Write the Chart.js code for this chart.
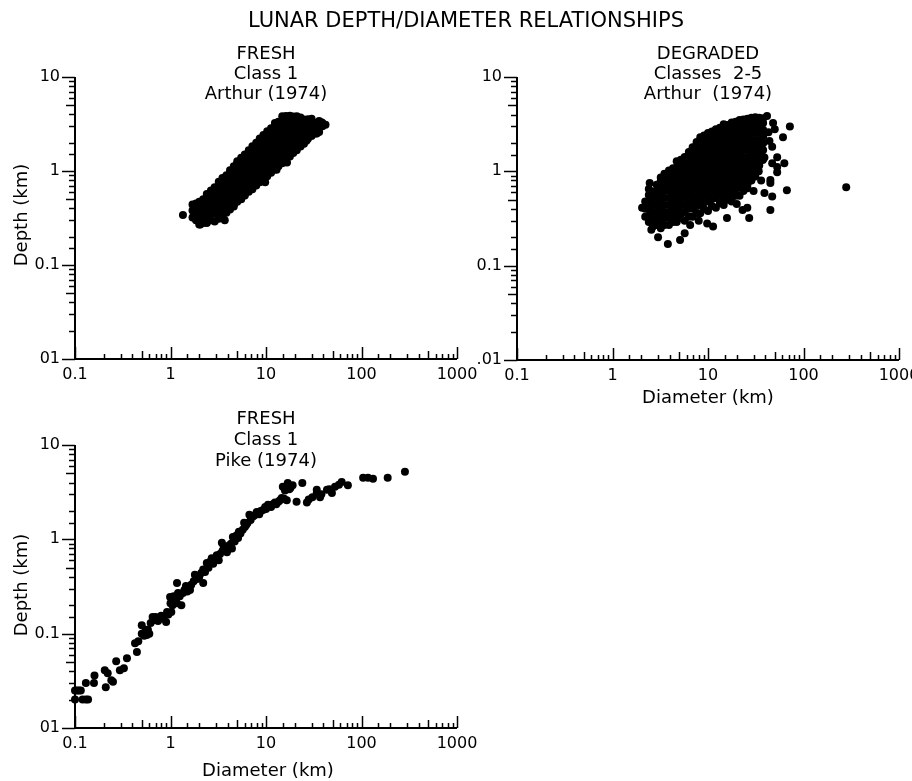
<!DOCTYPE html>
<html>
<head>
<meta charset="utf-8">
<script src="https://cdn.jsdelivr.net/npm/chart.js@4.4.1/dist/chart.umd.min.js"></script>
<style>
  html, body { margin: 0; padding: 0; background: #fff; overflow: hidden; }
  #page { position: relative; width: 912px; height: 781px; overflow: hidden; font-family: "DejaVu Sans", sans-serif; color: #000; }
  canvas { position: absolute; }
  .lbl { position: absolute; transform: translate(-50%, -50%); white-space: pre; line-height: 1; }
  .sub { font-size: 18px; }
  .axt { font-size: 18px; }
</style>
</head>
<body>
<div id="page">
  <canvas id="fresh" width="500" height="400" style="left:0;top:0"></canvas>
  <canvas id="degraded" width="500" height="400" style="left:440px;top:0"></canvas>
  <canvas id="pike" width="500" height="380" style="left:0;top:380px"></canvas>

  <div class="lbl" style="left:466px;top:20px;font-size:21px">LUNAR DEPTH/DIAMETER RELATIONSHIPS</div>

  <div class="lbl sub" style="left:266px;top:53px">FRESH</div>
  <div class="lbl sub" style="left:266px;top:73px">Class 1</div>
  <div class="lbl sub" style="left:266px;top:93px">Arthur (1974)</div>

  <div class="lbl sub" style="left:708px;top:53px">DEGRADED</div>
  <div class="lbl sub" style="left:708px;top:73px">Classes  2-5</div>
  <div class="lbl sub" style="left:708px;top:93px">Arthur  (1974)</div>

  <div class="lbl sub" style="left:266px;top:418px">FRESH</div>
  <div class="lbl sub" style="left:266px;top:439px">Class 1</div>
  <div class="lbl sub" style="left:266px;top:460px">Pike (1974)</div>

  <div class="lbl axt" style="left:21px;top:215px;transform:translate(-50%,-50%) rotate(-90deg)">Depth (km)</div>
  <div class="lbl axt" style="left:21px;top:585px;transform:translate(-50%,-50%) rotate(-90deg)">Depth (km)</div>
  <div class="lbl axt" style="left:708px;top:397px">Diameter (km)</div>
  <div class="lbl axt" style="left:268px;top:770px">Diameter (km)</div>
</div>

<script>
// tick labels
const xTickValues = [0.1, 1, 10, 100, 1000];
const xTickLabels = ['0.1', '1', '10', '100', '1000'];
const yTickValues = [0.01, 0.1, 1, 10];
const yTickLabelsFresh = ['01', '0.1', '1', '10'];
const yTickLabelsDegraded = ['.01', '0.1', '1', '10'];

// [diameter km, depth km] - Arthur (1974), fresh class 1
const freshArthur = [
  [1.35, 0.34],
  [1.7, 0.32], [1.7, 0.38], [1.7, 0.44],
  [2.0, 0.27], [2.0, 0.30], [2.0, 0.35], [2.0, 0.41], [2.0, 0.47],
  [2.4, 0.28], [2.4, 0.32], [2.4, 0.38], [2.4, 0.44], [2.4, 0.52], [2.4, 0.57],
  [2.9, 0.29], [2.9, 0.35], [2.9, 0.41], [2.9, 0.48], [2.9, 0.57], [2.9, 0.67],
  [3.5, 0.32], [3.5, 0.38], [3.5, 0.44], [3.5, 0.52], [3.5, 0.62], [3.5, 0.73], [3.5, 0.84],
  [4.2, 0.39], [4.2, 0.41], [4.2, 0.48], [4.2, 0.57], [4.2, 0.67], [4.2, 0.79], [4.2, 0.93], [4.2, 1.02],
  [5.0, 0.47], [5.0, 0.52], [5.0, 0.62], [5.0, 0.73], [5.0, 0.86], [5.0, 1.01], [5.0, 1.2], [5.0, 1.27],
  [6.0, 0.55], [6.0, 0.57], [6.0, 0.67], [6.0, 0.79], [6.0, 0.93], [6.0, 1.1], [6.0, 1.3], [6.0, 1.5],
  [7.2, 0.64], [7.2, 0.73], [7.2, 0.86], [7.2, 1.01], [7.2, 1.2], [7.2, 1.41], [7.2, 1.67], [7.2, 1.83],
  [8.6, 0.76], [8.6, 0.79], [8.6, 0.93], [8.6, 1.1], [8.6, 1.3], [8.6, 1.54], [8.6, 1.81], [8.6, 2.14], [8.6, 2.22],
  [10.3, 0.88], [10.3, 1.01], [10.3, 1.2], [10.3, 1.41], [10.3, 1.67], [10.3, 1.97], [10.3, 2.32], [10.3, 2.65],
  [12.4, 1.04], [12.4, 1.1], [12.4, 1.3], [12.4, 1.54], [12.4, 1.81], [12.4, 2.14], [12.4, 2.52], [12.4, 2.98], [12.4, 3.25],
  [14.8, 1.21], [14.8, 1.41], [14.8, 1.67], [14.8, 1.97], [14.8, 2.32], [14.8, 2.74], [14.8, 3.24], [14.8, 3.82],
  [17.8, 1.43], [17.8, 1.54], [17.8, 1.81], [17.8, 2.14], [17.8, 2.52], [17.8, 2.98], [17.8, 3.52], [17.8, 3.88],
  [21, 1.66], [21, 1.97], [21, 2.32], [21, 2.74], [21, 3.24], [21, 3.82],
  [25, 1.95], [25, 2.14], [25, 2.52], [25, 2.98], [25, 3.52],
  [30, 2.35], [30, 2.74], [30, 3.24], [30, 3.6],
  [36, 2.6], [36, 2.98], [36, 3.4],
  [42, 3.1],
  [16.6, 1.23], [9.8, 0.76], [12.9, 1.03], [3.7, 0.3], [2.05, 0.27], [26.5, 2.1], [34, 2.5], [38, 3.3],
  [4.6, 0.42], [5.5, 0.5],
  [1.85, 0.30], [1.85, 0.35], [1.85, 0.41], [1.85, 0.45],
  [2.2, 0.28], [2.2, 0.33], [2.2, 0.38], [2.2, 0.44], [2.2, 0.50],
  [2.65, 0.30], [2.65, 0.35], [2.65, 0.41], [2.65, 0.48], [2.65, 0.56], [2.65, 0.62],
  [3.2, 0.31], [3.2, 0.36], [3.2, 0.42], [3.2, 0.49], [3.2, 0.57], [3.2, 0.67], [3.2, 0.77],
  [3.85, 0.36], [3.85, 0.42], [3.85, 0.49], [3.85, 0.57], [3.85, 0.67], [3.85, 0.78], [3.85, 0.9],
  [4.6, 0.44], [4.6, 0.51], [4.6, 0.6], [4.6, 0.7], [4.6, 0.82], [4.6, 0.96], [4.6, 1.12],
  [5.5, 0.51], [5.5, 0.6], [5.5, 0.7], [5.5, 0.82], [5.5, 0.96], [5.5, 1.12], [5.5, 1.3], [5.5, 1.38],
  [6.6, 0.6], [6.6, 0.7], [6.6, 0.82], [6.6, 0.96], [6.6, 1.12], [6.6, 1.3], [6.6, 1.52], [6.6, 1.66],
  [7.9, 0.7], [7.9, 0.82], [7.9, 0.96], [7.9, 1.12], [7.9, 1.3], [7.9, 1.52], [7.9, 1.78], [7.9, 2.0],
  [9.4, 0.82], [9.4, 0.96], [9.4, 1.12], [9.4, 1.3], [9.4, 1.52], [9.4, 1.78], [9.4, 2.08], [9.4, 2.42],
  [11.3, 0.96], [11.3, 1.12], [11.3, 1.3], [11.3, 1.52], [11.3, 1.78], [11.3, 2.08], [11.3, 2.44], [11.3, 2.85],
  [13.5, 1.12], [13.5, 1.3], [13.5, 1.52], [13.5, 1.78], [13.5, 2.08], [13.5, 2.44], [13.5, 2.85], [13.5, 3.35],
  [16.2, 1.32], [16.2, 1.52], [16.2, 1.78], [16.2, 2.08], [16.2, 2.44], [16.2, 2.85], [16.2, 3.35], [16.2, 3.85],
  [19.3, 1.55], [19.3, 1.78], [19.3, 2.08], [19.3, 2.44], [19.3, 2.85], [19.3, 3.35], [19.3, 3.8],
  [23, 1.82], [23, 2.08], [23, 2.44], [23, 2.85], [23, 3.35], [23, 3.7],
  [27.5, 2.2], [27.5, 2.5], [27.5, 2.85], [27.5, 3.35], [27.5, 3.55],
  [33, 2.5], [33, 2.85], [33, 3.25],
  [39, 3.0], [39, 3.25]
];

// Arthur (1974), degraded classes 2-5
const degradedArthur = [
  [2.04, 0.41], [2.45, 0.75],
  [2.2, 0.33], [2.2, 0.40], [2.2, 0.48],
  [2.65, 0.26], [2.65, 0.31], [2.65, 0.37], [2.65, 0.44], [2.65, 0.52], [2.65, 0.61],
  [3.2, 0.25], [3.2, 0.29], [3.2, 0.34], [3.2, 0.40], [3.2, 0.48], [3.2, 0.57], [3.2, 0.67], [3.2, 0.79], [3.2, 0.86],
  [3.9, 0.27], [3.9, 0.32], [3.9, 0.37], [3.9, 0.44], [3.9, 0.52], [3.9, 0.62], [3.9, 0.73], [3.9, 0.86], [3.9, 1.02],
  [4.7, 0.29], [4.7, 0.34], [4.7, 0.40], [4.7, 0.48], [4.7, 0.57], [4.7, 0.67], [4.7, 0.79], [4.7, 0.94], [4.7, 1.1], [4.7, 1.28],
  [5.7, 0.30], [5.7, 0.37], [5.7, 0.44], [5.7, 0.52], [5.7, 0.62], [5.7, 0.73], [5.7, 0.86], [5.7, 1.02], [5.7, 1.2], [5.7, 1.42],
  [6.9, 0.33], [6.9, 0.40], [6.9, 0.48], [6.9, 0.57], [6.9, 0.67], [6.9, 0.79], [6.9, 0.94], [6.9, 1.1], [6.9, 1.3], [6.9, 1.54], [6.9, 1.8],
  [8.3, 0.36], [8.3, 0.44], [8.3, 0.52], [8.3, 0.62], [8.3, 0.73], [8.3, 0.86], [8.3, 1.02], [8.3, 1.2], [8.3, 1.42], [8.3, 1.68], [8.3, 1.98], [8.3, 2.3],
  [10, 0.38], [10, 0.48], [10, 0.57], [10, 0.67], [10, 0.79], [10, 0.94], [10, 1.1], [10, 1.3], [10, 1.54], [10, 1.82], [10, 2.15], [10, 2.55],
  [12.1, 0.41], [12.1, 0.52], [12.1, 0.62], [12.1, 0.73], [12.1, 0.86], [12.1, 1.02], [12.1, 1.2], [12.1, 1.42], [12.1, 1.68], [12.1, 1.98], [12.1, 2.34], [12.1, 2.8],
  [14.6, 0.44], [14.6, 0.48], [14.6, 0.57], [14.6, 0.67], [14.6, 0.79], [14.6, 0.94], [14.6, 1.1], [14.6, 1.3], [14.6, 1.54], [14.6, 1.82], [14.6, 2.15], [14.6, 2.55], [14.6, 3.0], [14.6, 3.15],
  [17.7, 0.48], [17.7, 0.52], [17.7, 0.62], [17.7, 0.73], [17.7, 0.86], [17.7, 1.02], [17.7, 1.2], [17.7, 1.42], [17.7, 1.68], [17.7, 1.98], [17.7, 2.34], [17.7, 2.76], [17.7, 3.3],
  [21.4, 0.55], [21.4, 0.67], [21.4, 0.79], [21.4, 0.94], [21.4, 1.1], [21.4, 1.3], [21.4, 1.54], [21.4, 1.82], [21.4, 2.15], [21.4, 2.55], [21.4, 3.0], [21.4, 3.5],
  [25.9, 0.66], [25.9, 0.73], [25.9, 0.86], [25.9, 1.02], [25.9, 1.2], [25.9, 1.42], [25.9, 1.68], [25.9, 1.98], [25.9, 2.34], [25.9, 2.76], [25.9, 3.25], [25.9, 3.62],
  [31.3, 0.88], [31.3, 0.94], [31.3, 1.1], [31.3, 1.3], [31.3, 1.54], [31.3, 1.82], [31.3, 2.15], [31.3, 2.55], [31.3, 3.0], [31.3, 3.5], [31.3, 3.75],
  [37.8, 1.35], [37.8, 1.42], [37.8, 1.68], [37.8, 1.98], [37.8, 2.34], [37.8, 2.76], [37.8, 3.25], [37.8, 3.65],
  [2.4, 0.29], [2.4, 0.34], [2.4, 0.40], [2.4, 0.47], [2.4, 0.56], [2.4, 0.65],
  [2.9, 0.27], [2.9, 0.32], [2.9, 0.37], [2.9, 0.44], [2.9, 0.52], [2.9, 0.62], [2.9, 0.72],
  [3.5, 0.27], [3.5, 0.32], [3.5, 0.37], [3.5, 0.44], [3.5, 0.52], [3.5, 0.62], [3.5, 0.73], [3.5, 0.86], [3.5, 0.94],
  [4.3, 0.29], [4.3, 0.34], [4.3, 0.40], [4.3, 0.47], [4.3, 0.56], [4.3, 0.66], [4.3, 0.78], [4.3, 0.92], [4.3, 1.08],
  [5.2, 0.32], [5.2, 0.37], [5.2, 0.44], [5.2, 0.52], [5.2, 0.61], [5.2, 0.72], [5.2, 0.85], [5.2, 1.0], [5.2, 1.18], [5.2, 1.33],
  [6.3, 0.33], [6.3, 0.40], [6.3, 0.47], [6.3, 0.56], [6.3, 0.66], [6.3, 0.78], [6.3, 0.92], [6.3, 1.08], [6.3, 1.28], [6.3, 1.5], [6.3, 1.6],
  [7.6, 0.36], [7.6, 0.43], [7.6, 0.51], [7.6, 0.6], [7.6, 0.71], [7.6, 0.84], [7.6, 0.99], [7.6, 1.17], [7.6, 1.38], [7.6, 1.63], [7.6, 1.92], [7.6, 2.05],
  [9.1, 0.40], [9.1, 0.47], [9.1, 0.56], [9.1, 0.66], [9.1, 0.78], [9.1, 0.92], [9.1, 1.08], [9.1, 1.28], [9.1, 1.5], [9.1, 1.78], [9.1, 2.1], [9.1, 2.4],
  [11, 0.43], [11, 0.51], [11, 0.6], [11, 0.71], [11, 0.84], [11, 0.99], [11, 1.17], [11, 1.38], [11, 1.63], [11, 1.92], [11, 2.27], [11, 2.65],
  [13.3, 0.46], [13.3, 0.55], [13.3, 0.65], [13.3, 0.77], [13.3, 0.91], [13.3, 1.07], [13.3, 1.26], [13.3, 1.49], [13.3, 1.76], [13.3, 2.08], [13.3, 2.45], [13.3, 2.9],
  [16.1, 0.5], [16.1, 0.59], [16.1, 0.7], [16.1, 0.83], [16.1, 0.98], [16.1, 1.16], [16.1, 1.37], [16.1, 1.62], [16.1, 1.9], [16.1, 2.25], [16.1, 2.65], [16.1, 3.1],
  [19.5, 0.55], [19.5, 0.65], [19.5, 0.77], [19.5, 0.91], [19.5, 1.07], [19.5, 1.26], [19.5, 1.49], [19.5, 1.76], [19.5, 2.08], [19.5, 2.45], [19.5, 2.9], [19.5, 3.35],
  [23.5, 0.62], [23.5, 0.73], [23.5, 0.86], [23.5, 1.02], [23.5, 1.2], [23.5, 1.42], [23.5, 1.68], [23.5, 1.98], [23.5, 2.34], [23.5, 2.76], [23.5, 3.2], [23.5, 3.55],
  [28.5, 0.8], [28.5, 0.94], [28.5, 1.1], [28.5, 1.3], [28.5, 1.54], [28.5, 1.82], [28.5, 2.15], [28.5, 2.55], [28.5, 3.0], [28.5, 3.45], [28.5, 3.7],
  [34.4, 1.15], [34.4, 1.3], [34.4, 1.54], [34.4, 1.82], [34.4, 2.15], [34.4, 2.55], [34.4, 3.0], [34.4, 3.45], [34.4, 3.7],
  [41.5, 3.86], [48, 3.25], [72, 2.98], [61, 2.3], [53, 1.41], [63, 1.22], [53, 0.98], [45, 0.81],
  [67, 0.63], [47, 0.54], [39, 0.59], [45, 0.39], [25.8, 0.41], [27, 0.32], [23, 0.39], [15.8, 0.32],
  [9.8, 0.28], [11.3, 0.26], [5.7, 0.22], [5.1, 0.187], [3.8, 0.17], [3.0, 0.2], [2.55, 0.24],
  [39, 1.4], [37.5, 1.32], [47, 1.22], [53, 1.11], [45, 0.75], [34, 1.0], [36, 0.8], [30, 0.62],
  [20, 0.45], [43, 2.6], [50, 2.8], [8, 0.3], [6.5, 0.27], [47, 1.82], [44, 2.1],
  [280, 0.68]
];

// Pike (1974), fresh class 1
const freshPike = [
  [0.1, 0.025], [0.1, 0.02], [0.105, 0.025], [0.11, 0.025], [0.115, 0.025], [0.12, 0.02], [0.13, 0.02], [0.137, 0.02],
  [0.13, 0.03], [0.158, 0.03], [0.16, 0.036], [0.205, 0.041], [0.21, 0.027], [0.22, 0.038], [0.24, 0.032], [0.25, 0.031],
  [0.27, 0.051], [0.295, 0.041], [0.325, 0.043], [0.35, 0.055], [0.425, 0.079], [0.445, 0.064], [0.46, 0.083],
  [0.5, 0.123], [0.5, 0.1], [0.53, 0.095], [0.565, 0.097], [0.6, 0.1], [0.58, 0.11], [0.65, 0.15], [0.7, 0.15],
  [0.74, 0.136], [0.8, 0.155], [0.81, 0.145], [0.9, 0.133], [0.95, 0.16], [1.02, 0.17], [1.05, 0.2], [1.1, 0.22],
  [1.17, 0.21], [1.3, 0.2], [0.99, 0.245], [1.17, 0.345], [1.2, 0.27], [1.35, 0.27], [1.5, 0.28], [1.6, 0.29],
  [1.45, 0.32], [1.8, 0.42], [1.9, 0.38], [2.0, 0.4], [2.2, 0.345], [2.3, 0.45], [2.4, 0.56], [2.5, 0.5],
  [2.7, 0.63], [2.8, 0.55], [3.05, 0.68], [3.2, 0.6], [3.45, 0.92], [3.5, 0.75], [3.7, 0.8], [3.9, 0.73],
  [4.1, 0.86], [4.4, 0.8], [4.5, 1.06], [4.7, 0.95], [5.1, 1.03], [5.4, 1.15], [5.7, 1.26], [6.0, 1.35],
  [6.4, 1.49], [6.7, 1.82], [6.9, 1.6], [7.3, 1.75], [8.0, 1.95], [8.5, 1.85], [9.3, 2.05], [9.8, 2.2],
  [10.5, 2.32], [11.3, 2.2], [12.4, 2.45], [13.5, 2.5], [14.6, 2.75], [16.5, 2.6], [15, 3.6], [16.9, 3.95],
  [19, 3.75], [17.5, 3.4], [15.8, 3.3], [18, 3.5], [20.9, 2.5], [24, 3.95], [26.8, 2.45], [28, 2.65],
  [30.6, 2.8], [34, 3.1], [36.8, 2.8], [34, 3.35], [38, 3.0], [43.5, 3.35], [49, 3.1], [46, 3.4],
  [52.8, 3.6], [62, 4.05], [58, 3.8], [72, 3.75], [104, 4.5], [117, 4.5], [132, 4.4], [188, 4.5], [285, 5.2],
  [0.55, 0.11], [0.62, 0.13], [0.68, 0.14], [0.85, 0.15], [0.92, 0.17], [1.0, 0.21], [1.08, 0.25],
  [1.25, 0.25], [1.4, 0.29], [1.65, 0.33], [1.75, 0.36], [2.1, 0.44], [2.2, 0.48], [2.6, 0.58], [2.9, 0.6],
  [3.3, 0.7], [3.6, 0.85], [4.0, 0.78], [4.3, 0.9], [4.9, 1.1], [5.2, 1.2], [5.9, 1.5], [6.2, 1.42],
  [7.6, 1.8], [8.8, 2.0], [10, 2.1], [11.8, 2.35], [12.8, 2.35], [14, 2.6], [15.5, 2.7]
];

Chart.defaults.font.family = "'DejaVu Sans', sans-serif";
Chart.defaults.color = '#000';

function isDecade(v) {
  const l = Math.log10(v);
  return Math.abs(l - Math.round(l)) < 1e-6;
}

function tickLabel(v, vals, labels) {
  const i = vals.findIndex(t => Math.abs(Math.log10(v) - Math.log10(t)) < 1e-6);
  return i < 0 ? '' : labels[i];
}

function mantissa(v) {
  return Math.round(v / Math.pow(10, Math.floor(Math.log10(v) + 1e-9)));
}

// axis lines and tick marks: x ticks point up into the plot, y ticks point left
const axisMarks = {
  id: 'axisMarks',
  afterDraw(chart) {
    const { ctx, chartArea: a, scales: { x, y } } = chart;
    ctx.save();
    ctx.strokeStyle = '#000';
    ctx.lineWidth = 2;
    ctx.beginPath();
    ctx.moveTo(a.left, a.top);
    ctx.lineTo(a.left, a.bottom);
    ctx.lineTo(a.right, a.bottom);
    ctx.stroke();
    ctx.lineWidth = 1.5;
    x.ticks.forEach(t => {
      const m = mantissa(t.value);
      const len = isDecade(t.value) ? 12 : (m === 5 ? 8 : 5);
      const px = Math.round(x.getPixelForValue(t.value)) + 0.5;
      ctx.beginPath();
      ctx.moveTo(px, a.bottom);
      ctx.lineTo(px, a.bottom - len);
      ctx.stroke();
    });
    y.ticks.forEach(t => {
      const m = mantissa(t.value);
      const len = isDecade(t.value) ? 13 : (m === 5 ? 9 : 6);
      const py = Math.round(y.getPixelForValue(t.value)) + 0.5;
      ctx.beginPath();
      ctx.moveTo(a.left, py);
      ctx.lineTo(a.left - len, py);
      ctx.stroke();
    });
    ctx.restore();
  }
};

function makePanel(id, points, yLabels, box) {
  return new Chart(document.getElementById(id), {
    type: 'scatter',
    data: {
      datasets: [{
        data: points.map(p => ({ x: p[0], y: p[1] })),
        backgroundColor: '#000',
        borderColor: '#000',
        borderWidth: 0,
        pointRadius: 4,
        clip: false
      }]
    },
    options: {
      responsive: false,
      animation: false,
      events: [],
      layout: { padding: { top: box.top, right: box.right, left: 0, bottom: 0 } },
      plugins: { legend: { display: false }, tooltip: { enabled: false } },
      scales: {
        x: {
          type: 'logarithmic',
          min: 0.1,
          max: 1000,
          grid: { display: false, drawTicks: false },
          border: { display: false },
          afterFit: s => { s.height = box.xh; },
          ticks: {
            autoSkip: false,
            maxRotation: 0,
            padding: 6,
            font: { size: 16 },
            callback: v => tickLabel(v, xTickValues, xTickLabels)
          }
        },
        y: {
          type: 'logarithmic',
          min: 0.01,
          max: 10,
          grid: { display: false, drawTicks: false },
          border: { display: false },
          afterFit: s => { s.width = box.yw; },
          ticks: {
            autoSkip: false,
            padding: 15,
            font: { size: 16 },
            callback: v => tickLabel(v, yTickValues, yLabels)
          }
        }
      }
    },
    plugins: [axisMarks]
  });
}

makePanel('fresh', freshArthur, yTickLabelsFresh, { top: 77, right: 43, xh: 41, yw: 75 });
makePanel('degraded', degradedArthur, yTickLabelsDegraded, { top: 77, right: 41, xh: 40, yw: 77 });
makePanel('pike', freshPike, yTickLabelsFresh, { top: 65, right: 43, xh: 32, yw: 75 });
</script>
</body>
</html>
